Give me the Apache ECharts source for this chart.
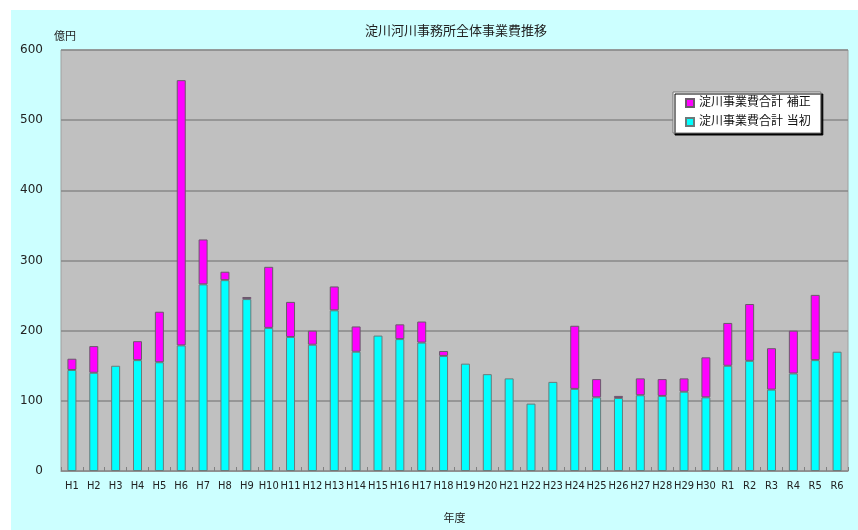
<!DOCTYPE html>
<html>
<head>
<meta charset="utf-8">
<script src="https://cdn.jsdelivr.net/npm/echarts@6/dist/echarts.min.js"></script>
<style>
  html, body { margin: 0; padding: 0; background: #fff; }
  #chart { width: 858px; height: 530px; }
</style>
</head>
<body>
<div id="chart"></div>
<script>
const years = ['H1','H2','H3','H4','H5','H6','H7','H8','H9','H10','H11','H12','H13','H14','H15','H16','H17','H18',
  'H19','H20','H21','H22','H23','H24','H25','H26','H27','H28','H29','H30','R1','R2','R3','R4','R5','R6']

// 当初 (initial budget)
const initialValues = [144,140,150,158,155,179,266,272,245,204,191,180,229,170,193,188,183,164,
  153,138,132,96,127,117,105,104,108,107,113,105,150,157,116,139,158,170]

// 補正 (supplementary)
const supplementValues = [16,38,0,27,72,378,64,12,3,87,50,20,34,36,0,21,30,7,
  0,0,0,0,0,90,26,3,24,24,19,57,61,81,59,61,93,0]

const yTicks = [0, 100, 200, 300, 400, 500, 600]

const fontFamily = "'DejaVu Sans', 'Noto Sans CJK JP', sans-serif"
const narrowFont = "'DejaVu Sans Condensed', 'Liberation Sans', sans-serif"

const myChart = echarts.init(document.getElementById('chart'))

const option = {
    backgroundColor: '#ffffff',
    animation: false,
    textStyle: {fontFamily: fontFamily},
    graphic: [
        {
            type: 'rect',
            z: -10,
            silent: true,
            shape: {x: 11, y: 10, width: 847, height: 520},
            style: {fill: '#ccffff'}
        }
    ],
    title: {
        text: '淀川河川事務所全体事業費推移',
        left: 360,
        top: 20,
        textStyle: {fontSize: 13, fontWeight: 'normal', color: '#222', fontFamily: fontFamily}
    },
    legend: {
        orient: 'vertical',
        left: 673,
        top: 92,
        data: ['淀川事業費合計 補正', '淀川事業費合計 当初'],
        backgroundColor: '#ffffff',
        borderColor: '#777',
        borderWidth: 1,
        borderRadius: 0,
        shadowColor: '#000',
        shadowBlur: 0,
        shadowOffsetX: 2,
        shadowOffsetY: 2,
        padding: [5, 10, 5, 12],
        itemGap: 7,
        itemWidth: 8,
        itemHeight: 8,
        icon: 'rect',
        textStyle: {fontSize: 12, color: '#111', fontFamily: fontFamily}
    },
    grid: {
        left: 61,
        right: 10,
        top: 50,
        bottom: 57,
        show: true,
        backgroundColor: '#c0c0c0',
        borderColor: '#a0a0a0',
        borderWidth: 1
    },
    xAxis: {
        type: 'category',
        data: years,
        name: '年度',
        nameLocation: 'middle',
        nameGap: 43,
        nameTextStyle: {fontSize: 11, color: '#222', fontFamily: fontFamily},
        axisLine: {show: true, lineStyle: {color: '#909090'}},
        axisTick: {show: true, inside: true, length: 4, lineStyle: {color: '#808080'}},
        axisLabel: {interval: 0, fontSize: 11, color: '#222', margin: 10, fontFamily: narrowFont}
    },
    yAxis: {
        type: 'value',
        min: yTicks[0],
        max: yTicks[yTicks.length - 1],
        interval: 100,
        name: '億円',
        nameLocation: 'end',
        nameGap: 7,
        nameTextStyle: {fontSize: 11, color: '#222', padding: [0, 0, 0, 8]},
        axisLine: {show: false},
        axisTick: {show: false},
        axisLabel: {fontSize: 12, color: '#222', margin: 18},
        splitLine: {lineStyle: {color: '#888', width: 1.5}}
    },
    series: [
        {
            name: '淀川事業費合計 当初',
            type: 'bar',
            stack: 'total',
            barWidth: 9,
            data: initialValues,
            itemStyle: {color: '#00ffff', borderColor: '#6a7a7a', borderWidth: 1}
        },
        {
            name: '淀川事業費合計 補正',
            type: 'bar',
            stack: 'total',
            barWidth: 9,
            data: supplementValues.map(v => v === 0 ? '-' : v),
            itemStyle: {color: '#ff00ff', borderColor: '#6a5a6a', borderWidth: 1}
        }
    ]
}

option && myChart.setOption(option)
</script>
</body>
</html>
